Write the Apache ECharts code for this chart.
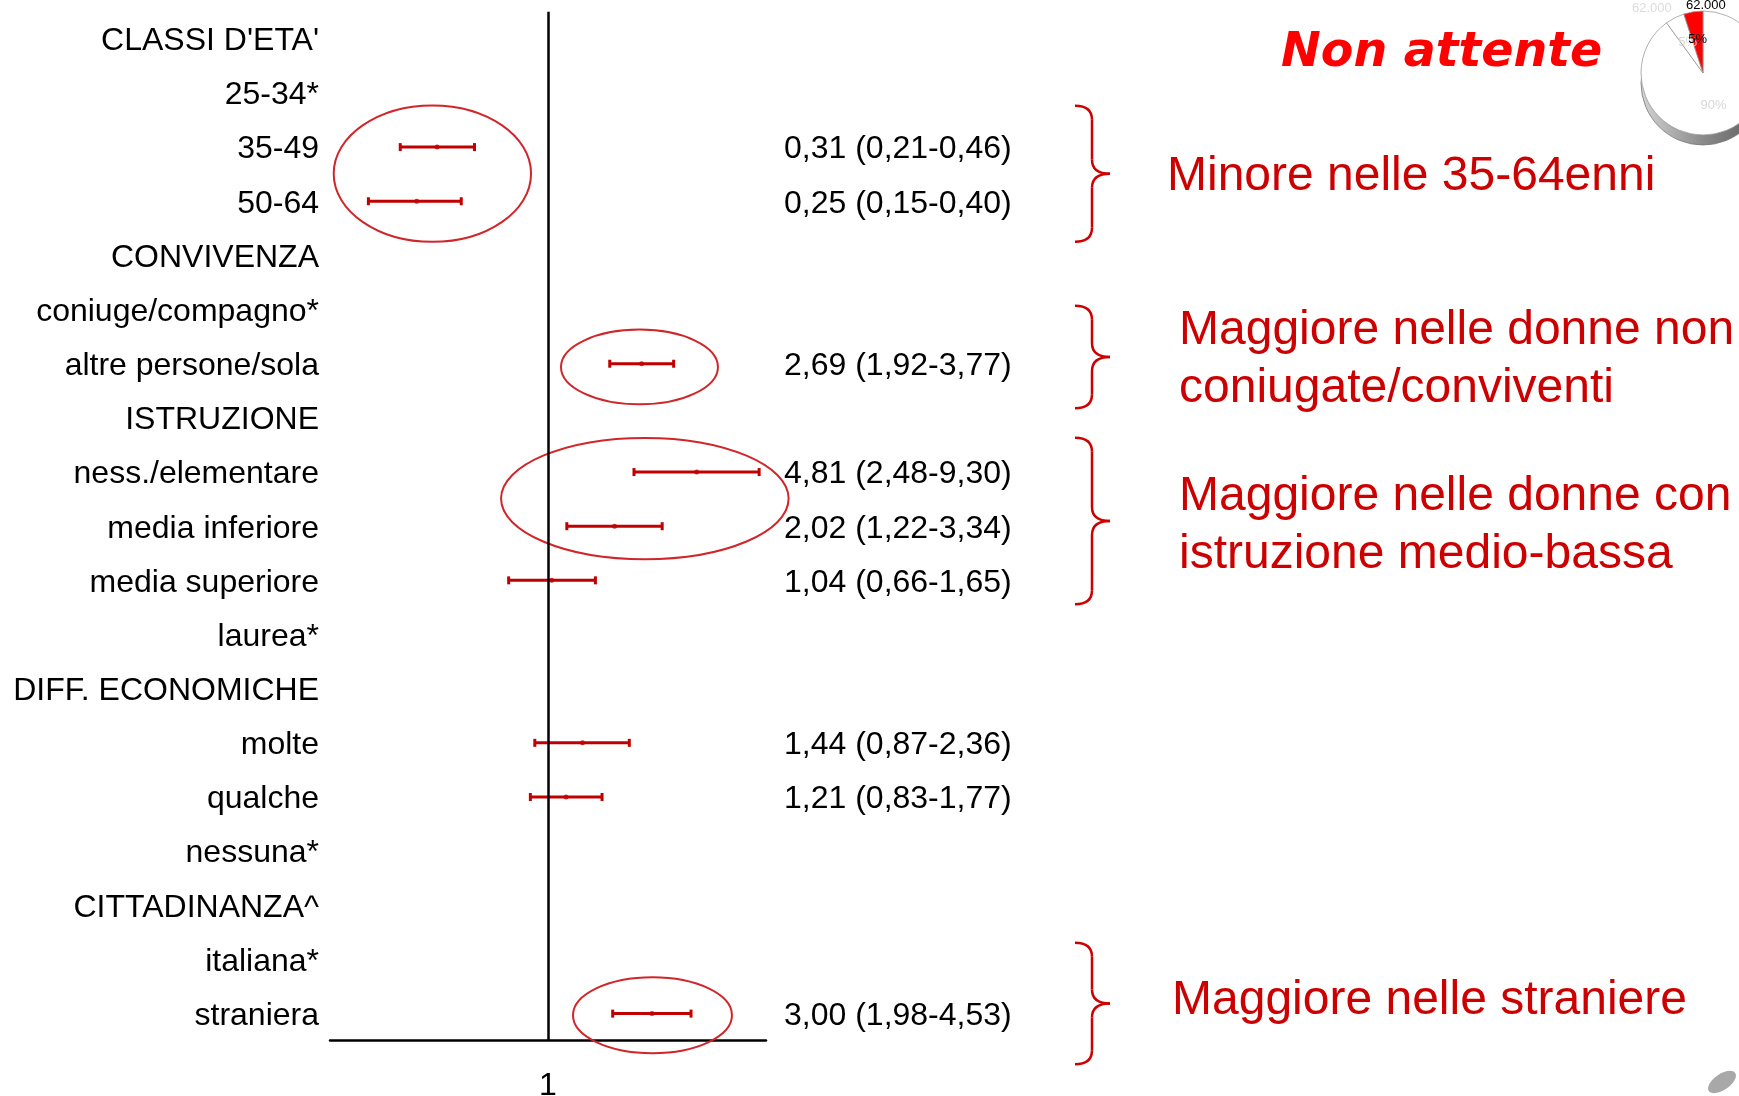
<!DOCTYPE html>
<html>
<head>
<meta charset="utf-8">
<title>Non attente</title>
<script src="https://cdn.jsdelivr.net/npm/echarts@6/dist/echarts.min.js"></script>
<style>
  html, body { margin: 0; padding: 0; background: #fff; }
  #chart { width: 1739px; height: 1096px; }
</style>
</head>
<body>
<div id="chart"></div>
<script>
// righe del forest plot (dall'alto in basso)
const rowLabels = [
  "CLASSI D'ETA'", "25-34*", "35-49", "50-64",
  "CONVIVENZA", "coniuge/compagno*", "altre persone/sola",
  "ISTRUZIONE", "ness./elementare", "media inferiore", "media superiore", "laurea*",
  "DIFF. ECONOMICHE", "molte", "qualche", "nessuna*",
  "CITTADINANZA^", "italiana*", "straniera"
];
const oddsRatio = [null, null, 0.31, 0.25, null, null, 2.69, null, 4.81, 2.02, 1.04, null, null, 1.44, 1.21, null, null, null, 3.00];
const ciLow     = [null, null, 0.21, 0.15, null, null, 1.92, null, 2.48, 1.22, 0.66, null, null, 0.87, 0.83, null, null, null, 1.98];
const ciHigh    = [null, null, 0.46, 0.40, null, null, 3.77, null, 9.30, 3.34, 1.65, null, null, 2.36, 1.77, null, null, null, 4.53];
const xLabelled = [1];

// torta decorativa in alto a destra
const pieNames = ['90%', '5%', '5%'];
const pieValues = [90, 5, 5];
const pieTopLabel = '62.000';

// cerchi rossi: [OR sinistro, OR destro, riga centrale, mezza altezza in righe]
const circled = [
  [0.104, 0.836, 2.49, 1.26],
  [1.147, 6.02, 6.06, 0.69],
  [0.609, 12.7, 8.49, 1.12],
  [1.302, 6.98, 18.03, 0.70]
];

const notes = [
  'Minore nelle 35-64enni',
  'Maggiore nelle donne non\nconiugate/conviventi',
  'Maggiore nelle donne con\nistruzione medio-bassa',
  'Maggiore nelle straniere'
];

const RED = '#c00000';
const ANN = '#cc0000';
const FONT = '"Liberation Sans", Arial, sans-serif';

const fmt = v => v.toFixed(2).replace('.', ',');
const orText = rowLabels.map((_, i) =>
  oddsRatio[i] == null ? '' : fmt(oddsRatio[i]) + ' (' + fmt(ciLow[i]) + '-' + fmt(ciHigh[i]) + ')');

const barData = [];
const dotData = [];
rowLabels.forEach((_, i) => {
  if (oddsRatio[i] == null) return;
  barData.push([ciLow[i], ciHigh[i], i]);
  dotData.push([oddsRatio[i], i]);
});

function brace(top, bot) {
  const x0 = 1075, xv = 1092, xt = 1110, r = 14, mid = (top + bot) / 2;
  const st = { stroke: ANN, lineWidth: 2.5, fill: null };
  return [
    { type: 'bezierCurve', shape: { x1: x0, y1: top, cpx1: xv, cpy1: top, x2: xv, y2: top + r }, style: st },
    { type: 'line', shape: { x1: xv, y1: top + r, x2: xv, y2: mid - r }, style: st },
    { type: 'bezierCurve', shape: { x1: xv, y1: mid - r, cpx1: xv, cpy1: mid, x2: xt, y2: mid }, style: st },
    { type: 'bezierCurve', shape: { x1: xt, y1: mid, cpx1: xv, cpy1: mid, x2: xv, y2: mid + r }, style: st },
    { type: 'line', shape: { x1: xv, y1: mid + r, x2: xv, y2: bot - r }, style: st },
    { type: 'bezierCurve', shape: { x1: xv, y1: bot - r, cpx1: xv, cpy1: bot, x2: x0, y2: bot }, style: st }
  ];
}

function note(text, x, y) {
  return {
    type: 'text', x: x, y: y,
    style: { text: text, fill: ANN, fontSize: 48, fontFamily: FONT, lineHeight: 58, verticalAlign: 'middle' }
  };
}

// etichette righe: ancorate in alto con interlinea corta per abbassarle di poco
const rowLabelStyle = { interval: 0, color: '#000', fontSize: 32, fontFamily: FONT, verticalAlign: 'top', lineHeight: 5 };

const chart = echarts.init(document.getElementById('chart'));
chart.setOption({
  animation: false,
  backgroundColor: '#fff',
  grid: { left: 330, right: 973, top: 11.7, bottom: 55.3, containLabel: false, outerBoundsMode: 'none' },
  xAxis: {
    type: 'log', logBase: 10, min: 0.1, max: 10,
    axisLine: { show: true, lineStyle: { color: '#000', width: 2.5 } },
    axisTick: { show: false },
    splitLine: { show: false },
    axisLabel: {
      margin: 29, color: '#000', fontSize: 32, fontFamily: FONT,
      formatter: v => (xLabelled.indexOf(Math.round(v * 1000) / 1000) >= 0 ? String(v) : '')
    }
  },
  yAxis: [
    {
      type: 'category', data: rowLabels, inverse: true,
      axisLine: { show: false }, axisTick: { show: false }, splitLine: { show: false },
      axisLabel: Object.assign({ margin: 11 }, rowLabelStyle)
    },
    {
      type: 'category', data: orText, inverse: true, position: 'right',
      axisLine: { show: false }, axisTick: { show: false }, splitLine: { show: false },
      axisLabel: Object.assign({ margin: 18 }, rowLabelStyle)
    }
  ],
  series: [
    {
      type: 'custom', name: 'IC', clip: false, silent: true,
      encode: { x: [0, 1], y: 2 },
      data: barData,
      renderItem: (params, api) => {
        const a = api.coord([api.value(0), api.value(2)]);
        const b = api.coord([api.value(1), api.value(2)]);
        const h = 4;
        const st = { stroke: RED, lineWidth: 3 };
        return {
          type: 'group', children: [
            { type: 'line', shape: { x1: a[0], y1: a[1], x2: b[0], y2: b[1] }, style: st },
            { type: 'line', shape: { x1: a[0], y1: a[1] - h, x2: a[0], y2: a[1] + h }, style: st },
            { type: 'line', shape: { x1: b[0], y1: b[1] - h, x2: b[0], y2: b[1] + h }, style: st }
          ]
        };
      }
    },
    {
      type: 'scatter', name: 'OR', silent: true,
      symbolSize: 5, itemStyle: { color: RED },
      data: dotData,
      markLine: {
        silent: true, symbol: ['none', 'none'],
        label: { show: false },
        lineStyle: { color: '#000', width: 2.5, type: 'solid' },
        data: [{ xAxis: 1 }]
      }
    },
    {
      type: 'custom', name: 'evidenza', clip: false, silent: true,
      encode: { x: [0, 1], y: 2 },
      data: circled.map(c => [c[0], c[1], Math.round(c[2])]),
      renderItem: (params, api) => {
        const c = circled[params.dataIndex];
        const pL = api.coord([c[0], 0]);
        const pR = api.coord([c[1], 0]);
        const y0 = api.coord([1, 0])[1];
        const step = api.coord([1, 1])[1] - y0;
        return {
          type: 'ellipse',
          shape: { cx: (pL[0] + pR[0]) / 2, cy: y0 + c[2] * step, rx: (pR[0] - pL[0]) / 2, ry: c[3] * step },
          style: { fill: null, stroke: '#d0262b', lineWidth: 2 }
        };
      }
    },
    {
      type: 'pie', silent: true, z: 5,
      center: [1703, 73], radius: 62, startAngle: 90, clockwise: true,
      itemStyle: { borderColor: '#9a9a9a', borderWidth: 0.8 },
      label: { position: 'inside', fontSize: 13, fontFamily: FONT, color: '#d8d8d8', formatter: '{b}' },
      labelLine: { show: false },
      labelLayout: { hideOverlap: false },
      data: pieValues.map((v, i) => ({
        value: v, name: pieNames[i],
        itemStyle: { color: i === 2 ? '#ff0000' : '#ffffff' },
        label: i === 2 ? { color: '#000' } : {}
      }))
    }
  ],
  graphic: [
    // bordo 3D della torta
    {
      type: 'circle', z: 1, shape: { cx: 1703, cy: 83, r: 62 },
      style: {
        fill: new echarts.graphic.LinearGradient(0, 0, 1, 0, [
          { offset: 0, color: '#d4d4d4' }, { offset: 0.5, color: '#8a8a8a' }, { offset: 1, color: '#5a5a5a' }
        ]),
        stroke: '#777', lineWidth: 0.8
      }
    },
    { type: 'text', x: 1632, y: 8, style: { text: pieTopLabel, fill: '#dcdcdc', fontSize: 13, fontFamily: FONT, verticalAlign: 'middle' } },
    { type: 'text', x: 1686, y: 5, z: 10, style: { text: pieTopLabel, fill: '#000', fontSize: 13, fontFamily: FONT, verticalAlign: 'middle' } },
    {
      type: 'text', x: 1281, y: 54,
      style: { text: 'Non attente', fill: '#ff0000', fontSize: 47.5, fontWeight: 'bold', fontStyle: 'italic', fontFamily: '"DejaVu Sans", Verdana, sans-serif', verticalAlign: 'middle' }
    },
    ...brace(105.7, 241.7),
    ...brace(305.7, 408.3),
    ...brace(437.7, 604.3),
    ...brace(942.7, 1064.3),
    note(notes[0], 1167, 177),
    note(notes[1], 1179, 360),
    note(notes[2], 1179, 526),
    note(notes[3], 1172, 1001),
    {
      type: 'ellipse', x: 1722, y: 1082, rotation: 0.6,
      shape: { cx: 0, cy: 0, rx: 16, ry: 8 },
      style: { fill: '#a8a8a8' }
    }
  ]
});
</script>
</body>
</html>
